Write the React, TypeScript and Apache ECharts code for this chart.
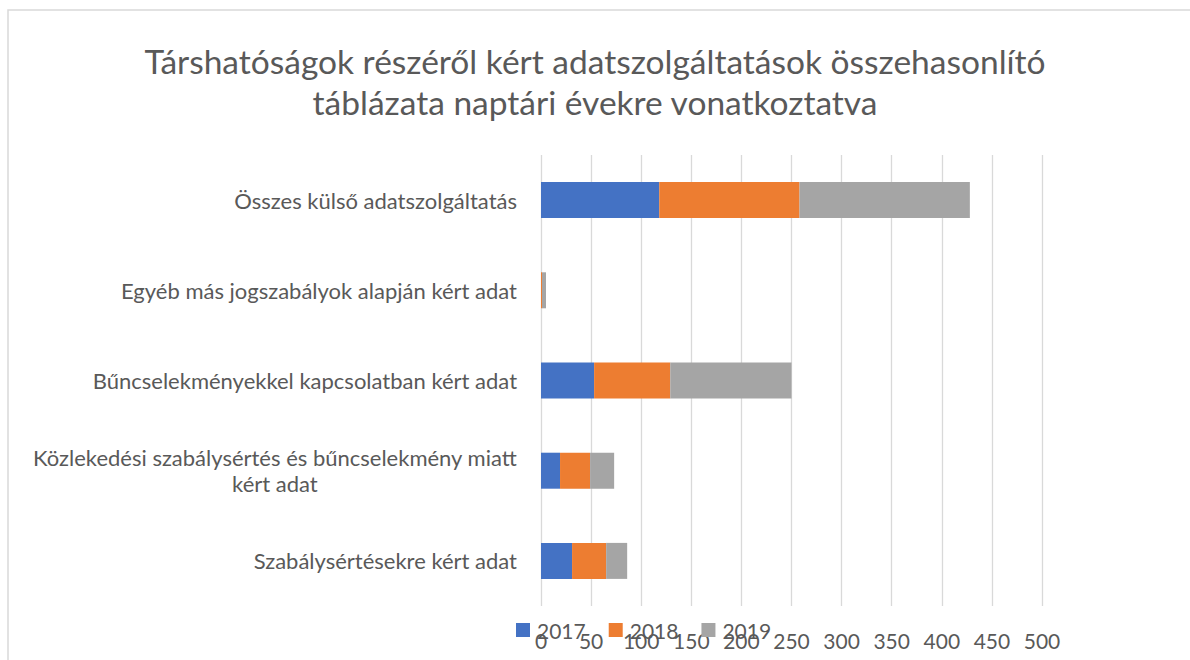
import React, { useEffect, useRef } from "react";
import * as echarts from "echarts";

const categories = [
  "Összes külső adatszolgáltatás",
  "Egyéb más jogszabályok alapján kért adat",
  "Bűncselekményekkel kapcsolatban kért adat",
  "Közlekedési szabálysértés és bűncselekmény miatt\nkért adat",
  "Szabálysértésekre kért adat",
];
const seriesNames = ["2017", "2018", "2019"];
const values2017 = [118, 0, 53, 19, 31];
const values2018 = [140, 1, 76, 30, 34];
const values2019 = [170, 4, 121, 24, 21];
const xTicks = { min: 0, max: 500, interval: 50 };
const titleText =
  "Társhatóságok részéről kért adatszolgáltatások összehasonlító\ntáblázata naptári évekre vonatkoztatva";

const colors = ["#4472C4", "#ED7D31", "#A5A5A5"];
const FONT = "Lato";
const TEXT = "#595959";

export default function App() {
  const ref = useRef<HTMLDivElement>(null);
  useEffect(() => {
    document.body.style.margin = "0";
    const chart = echarts.init(ref.current!, null, { renderer: "svg" });
    const data = [values2017, values2018, values2019];
    chart.setOption({
      animation: false,
      backgroundColor: "#ffffff",
      color: colors,
      textStyle: { fontFamily: FONT, color: TEXT },
      title: {
        text: titleText,
        left: "center",
        top: 35,
        textStyle: {
          fontFamily: FONT,
          fontSize: 33.5,
          fontWeight: "normal",
          color: TEXT,
          lineHeight: 41,
        },
      },
      graphic: [
        {
          type: "rect",
          shape: { x: 8, y: 10, width: 1400, height: 900 },
          style: { fill: "none", stroke: "#d9d9d9", lineWidth: 1.5 },
          silent: true,
        },
      ],
      legend: {
        data: seriesNames,
        left: 516,
        top: 619.5,
        padding: 0,
        itemWidth: 14,
        itemHeight: 14,
        itemGap: 23,
        icon: "rect",
        textStyle: { fontFamily: FONT, fontSize: 21, color: TEXT, padding: [0, 0, 0, 2] },
      },
      grid: { left: 541, right: 148, top: 155, bottom: 54, containLabel: false },
      xAxis: {
        type: "value",
        min: xTicks.min,
        max: xTicks.max,
        interval: xTicks.interval,
        axisLine: { show: false },
        axisTick: { show: false },
        splitLine: { lineStyle: { color: "#d9d9d9", width: 1.3 } },
        axisLabel: { fontFamily: FONT, fontSize: 21, color: TEXT, margin: 23.5 },
      },
      yAxis: {
        type: "category",
        inverse: true,
        data: categories,
        axisLine: { show: false },
        axisTick: { show: false },
        axisLabel: {
          margin: 24,
          fontFamily: FONT,
          fontSize: 22,
          color: TEXT,
          formatter: (v: string) =>
            v
              .split("\n")
              .map((l) => "{c|" + l + "}")
              .join("\n"),
          rich: {
            c: { align: "center", fontFamily: FONT, fontSize: 22, color: TEXT, lineHeight: 26 },
          },
        },
      },
      series: seriesNames.map((name, i) => ({
        name,
        type: "bar",
        stack: "total",
        barWidth: 36,
        data: data[i],
      })),
    });
    return () => chart.dispose();
  }, []);
  return <div ref={ref} style={{ width: 1190, height: 660 }} />;
}
